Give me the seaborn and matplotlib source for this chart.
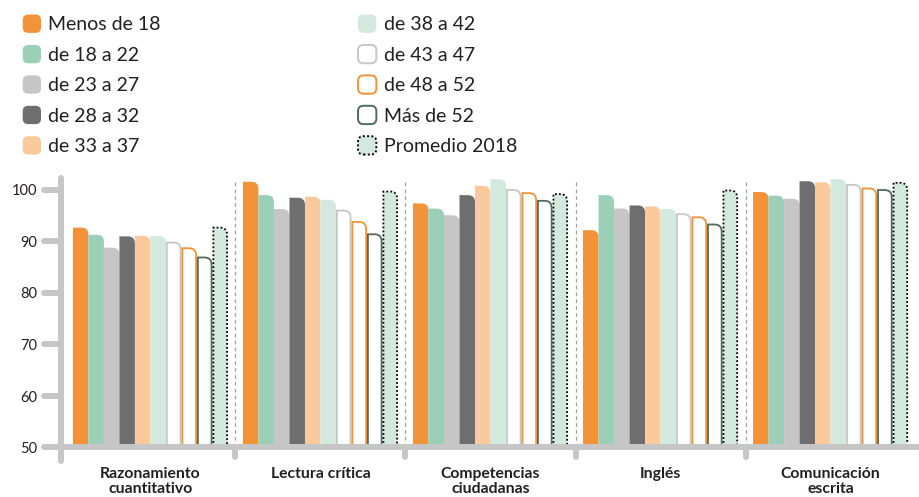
import numpy as np
import pandas as pd
import matplotlib
matplotlib.use("Agg")
import matplotlib.pyplot as plt
import seaborn as sns
from matplotlib.path import Path
from matplotlib.patches import PathPatch, FancyBboxPatch
from matplotlib.legend_handler import HandlerPatch
from matplotlib.patches import Patch

# --- data ---
areas = ["Razonamiento\ncuantitativo", "Lectura crítica", "Competencias\nciudadanas",
         "Inglés", "Comunicación\nescrita"]
grupos = ["Menos de 18", "de 18 a 22", "de 23 a 27", "de 28 a 32", "de 33 a 37",
          "de 38 a 42", "de 43 a 47", "de 48 a 52", "Más de 52", "Promedio 2018"]

menos_18 = [92.7, 101.6, 97.4, 92.2, 99.6]
de_18_22 = [91.3, 99.0, 96.4, 99.0, 98.9]
de_23_27 = [88.8, 96.3, 95.1, 96.4, 98.3]
de_28_32 = [91.0, 98.5, 99.0, 97.0, 101.7]
de_33_37 = [91.1, 98.7, 100.8, 96.8, 101.5]
de_38_42 = [91.1, 98.1, 102.1, 96.3, 102.1]
de_43_47 = [89.8, 96.0, 100.0, 95.3, 101.0]
de_48_52 = [88.7, 93.8, 99.4, 94.7, 100.3]
mas_52 = [86.9, 91.4, 97.9, 93.3, 100.0]
promedio = [92.7, 99.7, 99.2, 99.9, 101.4]

series = [menos_18, de_18_22, de_23_27, de_28_32, de_33_37,
          de_38_42, de_43_47, de_48_52, mas_52, promedio]

yticks = [50, 60, 70, 80, 90, 100]

# --- styles ---
ORANGE = "#F39339"
MINT = "#9BCFB8"
LGRAY = "#C6C6C6"
DGRAY = "#6E6E6E"
PEACH = "#FACA9C"
PALEMINT = "#D3E9DE"
DGREEN = "#4F6B5D"
AXIS = "#C6C6C6"
TEXT = "#231F20"

faces = [ORANGE, MINT, LGRAY, DGRAY, PEACH, PALEMINT, "white", "white", "white", PALEMINT]
edges = [None, None, None, None, None, None, LGRAY, ORANGE, DGREEN, "black"]
styles = ["solid"] * 9 + [(0, (1, 1.2))]


def build_frame():
    rows = []
    for g, vals in zip(grupos, series):
        for a, v in zip(areas, vals):
            rows.append({"area": a, "grupo": g, "valor": v})
    return pd.DataFrame(rows)


class RoundHandler(HandlerPatch):
    """Rounded square swatch, fixed size in points."""
    SIZE = 13.2

    def create_artists(self, legend, orig_handle, xdescent, ydescent, width, height,
                       fontsize, trans):
        s = self.SIZE
        x0 = -xdescent + 0.5
        y0 = -ydescent + (height - s) / 2
        p = FancyBboxPatch((x0, y0), s, s,
                           boxstyle="round,pad=0,rounding_size=%.2f" % (s * 0.3),
                           facecolor=orig_handle.get_facecolor(),
                           edgecolor=orig_handle.get_edgecolor(),
                           linewidth=orig_handle.get_linewidth(),
                           linestyle=orig_handle.get_linestyle(),
                           transform=trans)
        return [p]


def round_bars(ax, fig):
    """Swap each seaborn bar for one with a rounded top-right corner."""
    fig.canvas.draw()
    px_x = ax.transData.transform((1, 0))[0] - ax.transData.transform((0, 0))[0]
    px_y = ax.transData.transform((0, 1))[1] - ax.transData.transform((0, 0))[1]
    r_px = 7.0
    for container, fc, ec, ls in zip(ax.containers, faces, edges, styles):
        for bar in container:
            x, y = bar.get_x(), bar.get_y()
            w, h = bar.get_width(), bar.get_height()
            lw = 1.3 if ec else 0
            # inset outlined bars so the edge stays inside the slot
            inset = (lw * fig.dpi / 72 / 2) / px_x if ec else 0
            x0, x1 = x + inset, x + w - inset
            top = y + h
            rx = min(r_px / px_x, (x1 - x0) * 0.6)
            ry = r_px / px_y
            verts = [(x0, y), (x0, top), (x1 - rx, top), (x1, top), (x1, top - ry),
                     (x1, y), (x0, y)]
            codes = [Path.MOVETO, Path.LINETO, Path.LINETO, Path.CURVE3, Path.CURVE3,
                     Path.LINETO, Path.CLOSEPOLY]
            patch = PathPatch(Path(verts, codes), facecolor=fc,
                              edgecolor=ec if ec else "none", linewidth=lw,
                              linestyle=ls, zorder=2)
            ax.add_patch(patch)
            bar.remove()


def plot_chart(df):
    sns.set_theme(style="white")
    plt.rcParams["font.family"] = ["Lato", "DejaVu Sans"]

    fig = plt.figure(figsize=(9.19, 4.97), dpi=100)
    ax = fig.add_axes([61 / 919, 1 - 447.5 / 497, 1 - 61 / 919, (447.5 - 169.4) / 497])

    sns.barplot(data=df, x="area", y="valor", hue="grupo", hue_order=grupos,
                order=areas, palette=faces, saturation=1, width=0.912,
                errorbar=None, legend=False, ax=ax)

    ax.set_ylim(50, 104)
    ax.set_xlim(-0.526, 4.52)
    for s in ax.spines.values():
        s.set_visible(False)
    ax.set_xlabel("")
    ax.set_ylabel("")

    round_bars(ax, fig)

    # separators between groups
    for xs in np.arange(0.5, len(areas) - 0.5, 1.0):
        ax.plot([xs, xs], [50, 101.7], color="#A0A0A0", lw=0.9,
                linestyle=(0, (3, 2.5)), zorder=1)
        ax.plot([xs, xs], [50, 48.1], color=AXIS, lw=4.3,
                solid_capstyle="round", clip_on=False, zorder=3)

    # thick rounded axis lines
    yt = ax.get_yaxis_transform()
    ax.plot([0, 0], [47.3, 102.3], transform=yt, color=AXIS, lw=4.3,
            solid_capstyle="round", clip_on=False, zorder=3)
    ax.plot([-0.0198, 1.02], [50, 50], transform=yt, color=AXIS, lw=4.3,
            solid_capstyle="round", clip_on=False, zorder=3)
    for v in yticks[1:]:
        ax.plot([-0.0198, 0], [v, v], transform=yt, color=AXIS, lw=4.3,
                solid_capstyle="round", clip_on=False, zorder=3)

    ax.set_yticks(yticks)
    ax.set_yticklabels([str(v) for v in yticks], fontsize=10.5, color=TEXT)
    ax.tick_params(axis="y", length=0, pad=17)
    ax.set_xticks(range(len(areas)))
    ax.set_xticklabels(areas, fontsize=11.3, fontweight="bold", color=TEXT,
                       linespacing=1.12)
    ax.tick_params(axis="x", length=0, pad=14)

    handles = [Patch(facecolor=fc, edgecolor=ec if ec else fc,
                     linewidth=1.4 if ec else 0, linestyle=ls, label=g)
               for g, fc, ec, ls in zip(grupos, faces, edges, styles)]
    fig.legend(handles=handles, loc="upper left", bbox_to_anchor=(22 / 919, 1 - 15 / 497),
               ncol=2, frameon=False, fontsize=14, handlelength=0.98, handleheight=1.0,
               handletextpad=0.38, labelspacing=0.62, columnspacing=10.1,
               borderpad=0, borderaxespad=0, labelcolor=TEXT,
               handler_map={Patch: RoundHandler()})

    fig.savefig("out.png", dpi=100)


def main():
    df = build_frame()
    plot_chart(df)


if __name__ == "__main__":
    main()
